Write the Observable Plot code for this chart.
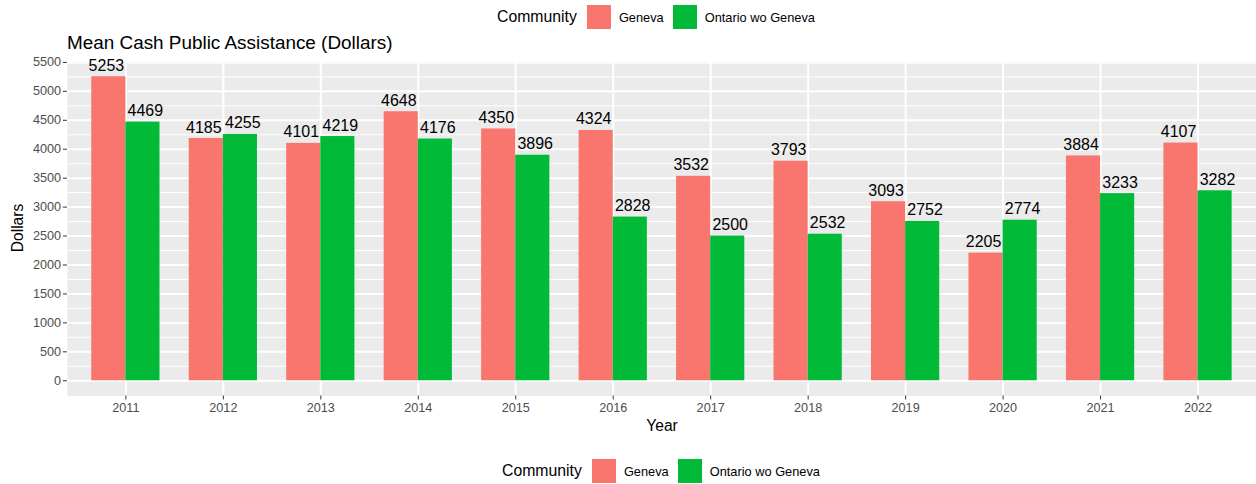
<!DOCTYPE html>
<html>
<head>
<meta charset="utf-8">
<script src="https://cdn.jsdelivr.net/npm/d3@7"></script>
<script src="https://cdn.jsdelivr.net/npm/@observablehq/plot@0.6"></script>
<style>
  html, body { margin: 0; padding: 0; background: #ffffff; }
  body { width: 1256px; height: 484px; position: relative; overflow: hidden;
         font-family: "Liberation Sans", Arial, Helvetica, sans-serif; color: #000; }
  .legend { position: absolute; display: flex; align-items: center; height: 24px; }
  .legend .ttl { font-size: 15.8px; margin-right: 10px; }
  .legend .key { width: 24px; height: 24px; margin-right: 8px; }
  .legend .lab { font-size: 12.8px; margin-right: 9px; }
  #title { position: absolute; left: 67px; top: 33.5px; font-size: 18.9px; line-height: 1; white-space: nowrap; }
  #ylab { position: absolute; left: 18px; top: 228px; font-size: 15.6px; line-height: 1;
          transform: translate(-50%, -50%) rotate(-90deg); white-space: nowrap; }
  #xlab { position: absolute; left: 662px; top: 417.8px; font-size: 15.6px; line-height: 1;
          transform: translateX(-50%); white-space: nowrap; }
  #chart { position: absolute; left: 0; top: 58px; }
</style>
</head>
<body>
<div class="legend" id="legTop" style="left:497px; top:5px;"></div>
<div id="title">Mean Cash Public Assistance (Dollars)</div>
<div id="chart"></div>
<div id="ylab">Dollars</div>
<div id="xlab">Year</div>
<div class="legend" id="legBot" style="left:502px; top:459px;"></div>
<script>
// ---- data ----
const years = [2011, 2012, 2013, 2014, 2015, 2016, 2017, 2018, 2019, 2020, 2021, 2022];
const geneva = [5253, 4185, 4101, 4648, 4350, 4324, 3532, 3793, 3093, 2205, 3884, 4107];
const ontarioWoGeneva = [4469, 4255, 4219, 4176, 3896, 2828, 2500, 2532, 2752, 2774, 3233, 3282];
const communities = ["Geneva", "Ontario wo Geneva"];
const communityColors = ["#F8766D", "#00BA38"];
const yTicks = [0, 500, 1000, 1500, 2000, 2500, 3000, 3500, 4000, 4500, 5000, 5500];
const yMinorTicks = [250, 750, 1250, 1750, 2250, 2750, 3250, 3750, 4250, 4750, 5250];

// ---- legends ----
function buildLegend(el) {
  const t = document.createElement("span");
  t.className = "ttl"; t.textContent = "Community"; el.appendChild(t);
  communities.forEach((c, i) => {
    const k = document.createElement("span");
    k.className = "key"; k.style.background = communityColors[i]; el.appendChild(k);
    const l = document.createElement("span");
    l.className = "lab"; l.textContent = c; el.appendChild(l);
  });
}
buildLegend(document.getElementById("legTop"));
buildLegend(document.getElementById("legBot"));

// ---- chart ----
const rows = years.flatMap((yr, i) => [
  {year: yr, community: communities[0], value: geneva[i]},
  {year: yr, community: communities[1], value: ontarioWoGeneva[i]}
]);
const half = 0.35;      // each bar's width in year units (dodge width 0.7)
const labelShift = 0.2; // labels dodged slightly wider than the bars
const x1 = d => d.community === communities[0] ? d.year - half : d.year;
const x2 = d => d.community === communities[0] ? d.year : d.year + half;
const xc = d => d.community === communities[0] ? d.year - labelShift : d.year + labelShift;

const yMax = d3.max(rows, d => d.value);
const pad = yMax * 0.05;

const chart = Plot.plot({
  width: 1258,
  height: 392,
  marginTop: 3,
  marginBottom: 54,
  marginLeft: 67,
  marginRight: 0,
  style: {fontFamily: "Liberation Sans, Arial, Helvetica, sans-serif", background: "transparent", overflow: "visible"},
  x: {domain: [years[0] - 0.6, years[years.length - 1] + 0.6], axis: null},
  y: {domain: [-pad, yMax + pad], axis: null},
  color: {domain: communities, range: communityColors},
  marks: [
    Plot.frame({fill: "#EBEBEB", stroke: "none"}),
    Plot.ruleY(yMinorTicks, {stroke: "#ffffff", strokeWidth: 1}),
    Plot.ruleY(yTicks, {stroke: "#ffffff", strokeWidth: 2}),
    Plot.ruleX(years, {stroke: "#ffffff", strokeWidth: 2}),
    Plot.rect(rows, {x1, x2, y1: 0, y2: "value", fill: "community"}),
    Plot.text(rows, {x: xc, y: "value", text: d => String(d.value), lineAnchor: "bottom", dy: -6,
                     fontSize: 16, fill: "#000000"}),
    Plot.axisY(yTicks, {anchor: "left", tickSize: 4, tickPadding: 2.3, fontSize: 12.7,
                        fill: "#4D4D4D", stroke: "#333333", tickFormat: d => String(d), label: null}),
    Plot.axisX(years, {anchor: "bottom", tickSize: 4, tickPadding: 3.3, fontSize: 12.7,
                       fill: "#4D4D4D", stroke: "#333333", tickFormat: d => String(d), label: null})
  ]
});
document.getElementById("chart").appendChild(chart);
</script>
</body>
</html>
